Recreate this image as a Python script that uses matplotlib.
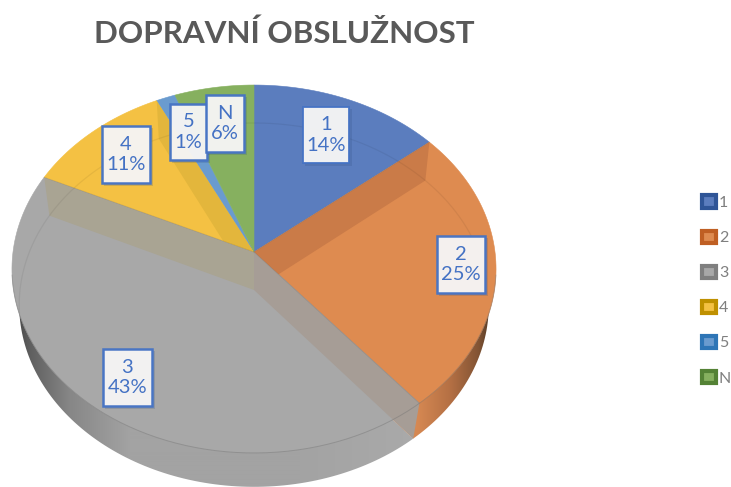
import numpy as np
import matplotlib
matplotlib.use("Agg")
import matplotlib.pyplot as plt
from matplotlib.patches import Polygon, Rectangle

categories = ["1", "2", "3", "4", "5", "N"]
values = [14, 25, 43, 10.8, 1.4, 5.8]
colors = ["#5B7DBE", "#DE8B50", "#A8A8A8", "#F4C143", "#6A9BCF", "#86B05F"]
edge_colors = ["#2F5597", "#BF5F23", "#7F7F7F", "#BF9000", "#2E75B6", "#548235"]
title = "DOPRAVNÍ OBSLUŽNOST"

BLUE = "#4472C4"
CX = 254
TOP = dict(y0=252, r=241, s=182.4, k=0.0924)
BOT = dict(y0=290, r=234, s=180.7, k=0.082)

plt.rcParams["font.family"] = ["Lato", "Open Sans", "DejaVu Sans"]
fig = plt.figure(figsize=(7.31, 4.87), dpi=100)
ax = fig.add_axes([0, 0, 1, 1])
ax.set_xlim(0, 731)
ax.set_ylim(487, 0)
ax.axis("off")


def rim(frac, d):
    a = 2 * np.pi * np.asarray(frac) / 100
    u, v = np.sin(a), np.cos(a)
    w = 1 + d["k"] * v
    return np.column_stack([CX + d["r"] * u / w, d["y0"] - d["s"] * v / w])


def wedge(f0, f1, d):
    n = max(int((f1 - f0) * 3), 4)
    pts = rim(np.linspace(f0, f1, n), d)
    return np.vstack([[CX, d["y0"]], pts])


cum = np.concatenate([[0], np.cumsum(values)])

# side wall: bottom disc with a horizontal shading, covered by the top disc
xs = np.arange(0, 520)
grey_side = np.column_stack([np.interp(xs, [15, 30, 70, 130, 300, 420], v)
                             for v in ([70, 95, 135, 163, 163, 170],) * 3])
orange_side = np.column_stack([
    np.interp(xs, [417, 450, 478, 497], [214, 180, 130, 60]),
    np.interp(xs, [417, 450, 478, 497], [136, 112, 84, 45]),
    np.interp(xs, [417, 450, 478, 497], [82, 68, 52, 30]),
])
for shade, idx in ((grey_side, 2), (orange_side, 1)):
    im = ax.imshow(shade[None, :, :] / 255, extent=[0, 520, 487, 200],
                   aspect="auto", interpolation="bilinear", zorder=1)
    clip = Polygon(wedge(cum[idx], cum[idx + 1], BOT), transform=ax.transData)
    im.set_clip_path(clip)
ax.set_xlim(0, 731)
ax.set_ylim(487, 0)

# top faces
faces = []
for i, c in enumerate(colors):
    p = Polygon(wedge(cum[i], cum[i + 1], TOP), closed=True, facecolor=c,
                edgecolor=c, linewidth=0.4, zorder=2)
    ax.add_patch(p)
    faces.append(p)

# inner walls seen through the translucent top faces:
# (index of boundary in cum, slice they show on or None, colour)
bands = [(1, 1, "#CA7B48"), (2, None, "#A69D96"), (3, 2, "#A9A493"), (4, 3, "#E3B63C")]
for b, on, col in bands:
    f = cum[b]
    t0, t1 = rim([f], TOP)[0], rim([f], BOT)[0]
    q = Polygon([[CX, TOP["y0"]], t0, t1, [CX, BOT["y0"]]], closed=True,
                facecolor=col, edgecolor="none", zorder=3)
    ax.add_patch(q)
    if on is not None:
        q.set_clip_path(faces[on])

# faint outline of the back half of the bottom disc seen through the top
top_clip = Polygon(rim(np.linspace(0, 100, 300), TOP), transform=ax.transData)
line, = ax.plot(*rim(np.linspace(-27, 24, 200), BOT).T, color="#000000",
                alpha=0.06, lw=0.9, zorder=4)
line.set_clip_path(top_clip)

# top rim
f_front = np.linspace(27, 73, 150)
ax.plot(*rim(f_front, TOP).T, color="#6f6f6f", alpha=0.4, lw=0.7, zorder=4)
for b in [1, 2, 3]:
    ax.plot([CX, rim([cum[b]], TOP)[0, 0]], [TOP["y0"], rim([cum[b]], TOP)[0, 1]],
            color="#555555", alpha=0.2, lw=0.6, zorder=4)

# data labels
boxes = {"1": (303, 107, 46, 56, 1.3), "2": (437, 236, 48, 57, 1.8),
         "3": (103, 349, 49, 57, 1.8), "4": (102, 126, 48, 57, 1.8),
         "5": (170, 104, 37, 56, 1.8), "N": (206, 95, 38, 57, 1.8)}
for cat, val in zip(categories, values):
    x, y, w, h, lw = boxes[cat]
    z = 6 if cat == "N" else 5
    ax.add_patch(Rectangle((x + 2, y + 2), w + 1, h + 1, facecolor="#2F4F80",
                           alpha=0.2, edgecolor="none", zorder=z))
    ax.add_patch(Rectangle((x, y), w, h, facecolor="#F7F6F5", edgecolor=BLUE,
                           linewidth=lw, alpha=0.96, zorder=z))
    ax.text(x + w / 2, y + h / 2, f"{cat}\n{val:.0f}%", color=BLUE, fontsize=14.5,
            ha="center", va="center", linespacing=1.22, zorder=z + 0.5)

ax.text(284, 34, title, color="#595959", fontsize=22.6, fontweight="bold",
        ha="center", va="center", zorder=7)

handles = [Rectangle((0, 0), 1, 1, facecolor=c, edgecolor=e, linewidth=3)
           for c, e in zip(colors, edge_colors)]
ax.legend(handles, categories, loc="center left", bbox_to_anchor=(702 / 731, 1 - 290.5 / 487),
          frameon=False, fontsize=11.5, labelcolor="#7F7F7F", handlelength=0.85,
          handleheight=0.85, handletextpad=0.2, labelspacing=1.26,
          borderpad=0, borderaxespad=0)

fig.savefig("out.png", dpi=100, facecolor="white")
